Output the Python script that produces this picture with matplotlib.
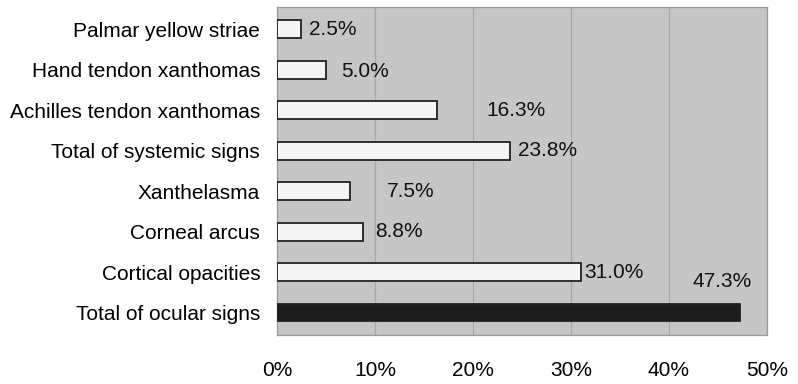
import numpy as np
from matplotlib import pyplot as plt

plt.rcParams['font.family'] = ['Liberation Sans', 'DejaVu Sans']

# dati
segni = ["Palmar yellow striae", "Hand tendon xanthomas", "Achilles tendon xanthomas",
         "Total of systemic signs", "Xanthelasma", "Corneal arcus",
         "Cortical opacities", "Total of ocular signs"]
percentuali = [2.5, 5.0, 16.3, 23.8, 7.5, 8.8, 31.0, 47.3]
etichette = ["2.5%", "5.0%", "16.3%", "23.8%", "7.5%", "8.8%", "31.0%", "47.3%"]
tick_x = [0, 10, 20, 30, 40, 50]
tick_lab = ["0%", "10%", "20%", "30%", "40%", "50%"]

# spostamento delle etichette (come nell'originale, un po' irregolare)
dx = [0.8, 1.6, 5.1, 0.8, 3.7, 1.2, 0.4, -4.9]
dy = [0, 0.05, 0, 0, 0, 0, 0, -0.78]

fig = plt.figure(figsize=(7.98, 3.84), dpi=100)
ax = fig.add_axes([0.347, 0.128, 0.614, 0.854])

y = np.arange(len(segni))
colori = ["#f4f4f4"] * (len(segni) - 1) + ["#1c1c1c"]
ax.barh(y, percentuali, height=0.44, color=colori, edgecolor="#222222", linewidth=1.3, zorder=3)

for i in range(len(segni)):
    ax.text(percentuali[i] + dx[i], y[i] + dy[i], etichette[i], va="center", ha="left",
            fontsize=15, color="#111111")

ax.set_facecolor("#c6c6c6")
ax.set_xlim(0, 50)
ax.set_ylim(len(segni) - 0.45, -0.55)
ax.set_yticks(y)
ax.set_yticklabels(segni, fontsize=15)
ax.set_xticks(tick_x)
ax.set_xticklabels(tick_lab, fontsize=15)
ax.tick_params(axis="y", length=0, pad=12)
ax.tick_params(axis="x", length=0, pad=19)
ax.grid(axis="x", color="#a8a8a8", linewidth=0.9, zorder=0)
for s in ax.spines.values():
    s.set_color("#9a9a9a")
    s.set_linewidth(0.9)

plt.savefig("out.png", dpi=100)
